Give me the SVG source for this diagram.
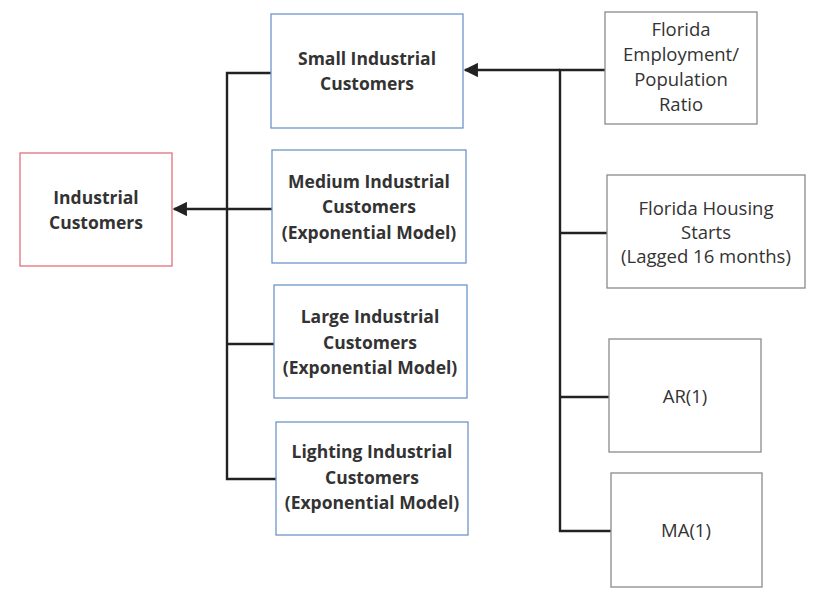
<svg xmlns="http://www.w3.org/2000/svg" width="815" height="595" viewBox="0 0 815 595">
  <style>
    .box { fill: #ffffff; stroke-width: 1.3; }
    .seg { stroke: #6f96c8; }
    .tot { stroke: #e0707c; }
    .drv { stroke: #8a8a8a; }
    .lbl { font-family: "Open Sans", "Liberation Sans", sans-serif; font-size: 18.5px; fill: #333333; text-anchor: middle; }
    .b { font-weight: bold; font-size: 17.5px; }
    .wire { fill: none; stroke: #222222; stroke-width: 2.4; }
  </style>
  <defs>
    <marker id="head" viewBox="0 0 10 10" refX="9" refY="5" markerWidth="6" markerHeight="6" orient="auto" markerUnits="strokeWidth">
      <path d="M0,0 L10,5 L0,10 z" fill="#222222"/>
    </marker>
  </defs>
  <rect width="815" height="595" fill="#ffffff"/>

  <g id="connectors">
    <!-- segment bus into total -->
    <path class="wire" d="M271,73 H227 V479 H276"/>
    <path class="wire" d="M227,344 H274"/>
    <path class="wire" d="M272,209 H174" marker-end="url(#head)"/>
    <!-- driver bus into small industrial -->
    <path class="wire" d="M605,70 H560 V531 H611"/>
    <path class="wire" d="M560,233 H607"/>
    <path class="wire" d="M560,397 H609"/>
    <path class="wire" d="M560,70 H465" marker-end="url(#head)"/>
  </g>

  <g id="industrial-customers">
    <rect class="box tot" x="20" y="153" width="152" height="113"/>
    <text class="lbl b" x="96" y="204">Industrial</text>
    <text class="lbl b" x="96" y="229">Customers</text>
  </g>

  <g id="small-industrial">
    <rect class="box seg" x="271" y="14" width="192" height="114"/>
    <text class="lbl b" x="367" y="65">Small Industrial</text>
    <text class="lbl b" x="367" y="90">Customers</text>
  </g>

  <g id="medium-industrial">
    <rect class="box seg" x="272" y="150" width="194" height="113"/>
    <text class="lbl b" x="369" y="188">Medium Industrial</text>
    <text class="lbl b" x="369" y="213">Customers</text>
    <text class="lbl b" x="369" y="239">(Exponential Model)</text>
  </g>

  <g id="large-industrial">
    <rect class="box seg" x="274" y="285" width="193" height="113"/>
    <text class="lbl b" x="370" y="323">Large Industrial</text>
    <text class="lbl b" x="370" y="349">Customers</text>
    <text class="lbl b" x="370" y="374">(Exponential Model)</text>
  </g>

  <g id="lighting-industrial">
    <rect class="box seg" x="276" y="422" width="192" height="113"/>
    <text class="lbl b" x="372" y="458">Lighting Industrial</text>
    <text class="lbl b" x="372" y="484">Customers</text>
    <text class="lbl b" x="372" y="509">(Exponential Model)</text>
  </g>

  <g id="employment-ratio">
    <rect class="box drv" x="605" y="12" width="152" height="112"/>
    <text class="lbl" x="681" y="36">Florida</text>
    <text class="lbl" x="681" y="61">Employment/</text>
    <text class="lbl" x="681" y="86">Population</text>
    <text class="lbl" x="681" y="111">Ratio</text>
  </g>

  <g id="housing-starts">
    <rect class="box drv" x="607" y="175" width="198" height="113"/>
    <text class="lbl" x="706" y="215">Florida Housing</text>
    <text class="lbl" x="706" y="239">Starts</text>
    <text class="lbl" x="706" y="263">(Lagged 16 months)</text>
  </g>

  <g id="ar1">
    <rect class="box drv" x="609" y="339" width="152" height="113"/>
    <text class="lbl" x="685" y="403">AR(1)</text>
  </g>

  <g id="ma1">
    <rect class="box drv" x="611" y="473" width="151" height="114"/>
    <text class="lbl" x="686" y="537">MA(1)</text>
  </g>
</svg>
